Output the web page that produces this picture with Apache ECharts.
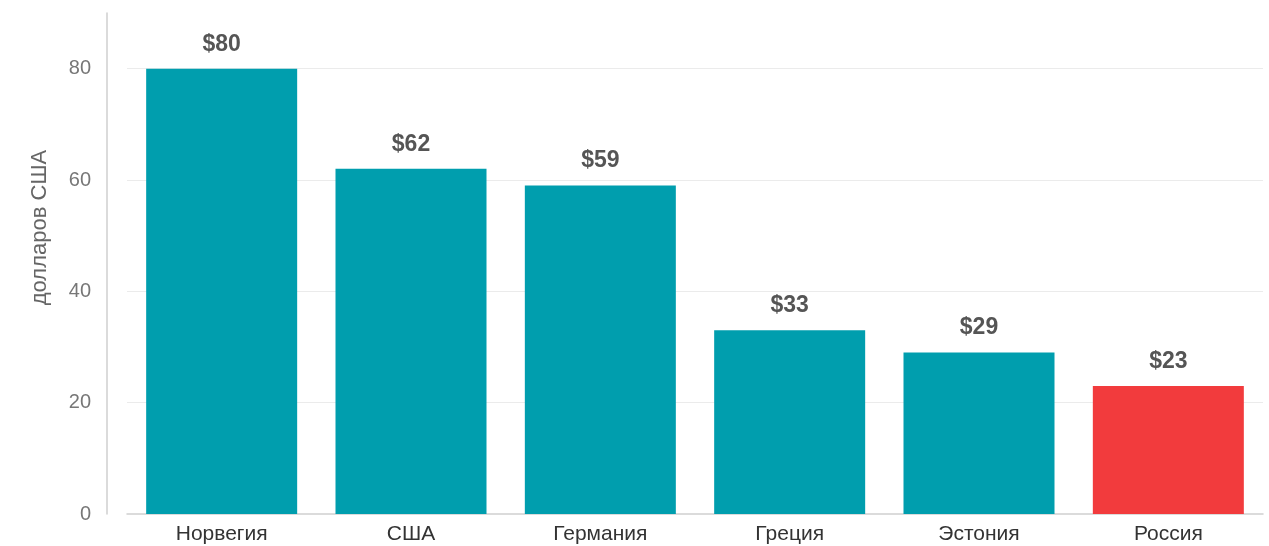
<!DOCTYPE html>
<html>
<head>
<meta charset="utf-8">
<script src="https://cdn.jsdelivr.net/npm/echarts@6/dist/echarts.min.js"></script>
<style>html,body{margin:0;padding:0;background:#fff;}#chart{width:1269px;height:546px;}</style>
</head>
<body>
<div id="chart"></div>
<script>
const categories = ['Норвегия', 'США', 'Германия', 'Греция', 'Эстония', 'Россия'];
const values = [80, 62, 59, 33, 29, 23];
const barColors = ['#009EAE', '#009EAE', '#009EAE', '#009EAE', '#009EAE', '#F23B3D'];
const yTicks = [0, 20, 40, 60, 80];
const yAxisTitle = 'долларов США';

const FONT = 'Liberation Sans, Arial, sans-serif';
const chart = echarts.init(document.getElementById('chart'), null, {renderer: 'canvas'});
chart.setOption({
  animation: false,
  grid: {left: 127, right: 6, top: 13, bottom: 32, containLabel: false},
  xAxis: {
    type: 'category',
    data: categories,
    axisLine: {show: true, lineStyle: {color: '#cfcfcf', width: 1.5}},
    axisTick: {show: false},
    axisLabel: {color: '#333', fontSize: 21, fontFamily: FONT, margin: 10}
  },
  yAxis: {
    type: 'value',
    min: 0, max: 90, interval: 20,
    offset: 20,
    name: yAxisTitle,
    nameLocation: 'middle',
    nameGap: 56,
    nameRotate: 90,
    nameTextStyle: {color: '#666', fontSize: 22, fontFamily: FONT, padding: [0, 0, 0, 72]},
    axisLine: {show: true, lineStyle: {color: '#cfcfcf', width: 1.5}},
    axisTick: {show: false},
    axisLabel: {
      color: '#777', fontSize: 20, fontFamily: FONT, margin: 16,
      showMaxLabel: false,
      formatter: v => yTicks.includes(v) ? String(v) : ''
    },
    splitLine: {show: true, showMaxLine: false, showMinLine: false, lineStyle: {color: '#ebebeb', width: 1}}
  },
  series: [{
    type: 'bar',
    barWidth: 151,
    data: values.map((v, i) => ({value: v, itemStyle: {color: barColors[i]}})),
    label: {
      show: true, position: 'top', distance: 13,
      formatter: p => '$' + p.value,
      color: '#555', fontSize: 23, fontWeight: 'bold', fontFamily: FONT
    }
  }]
});
</script>
</body>
</html>
